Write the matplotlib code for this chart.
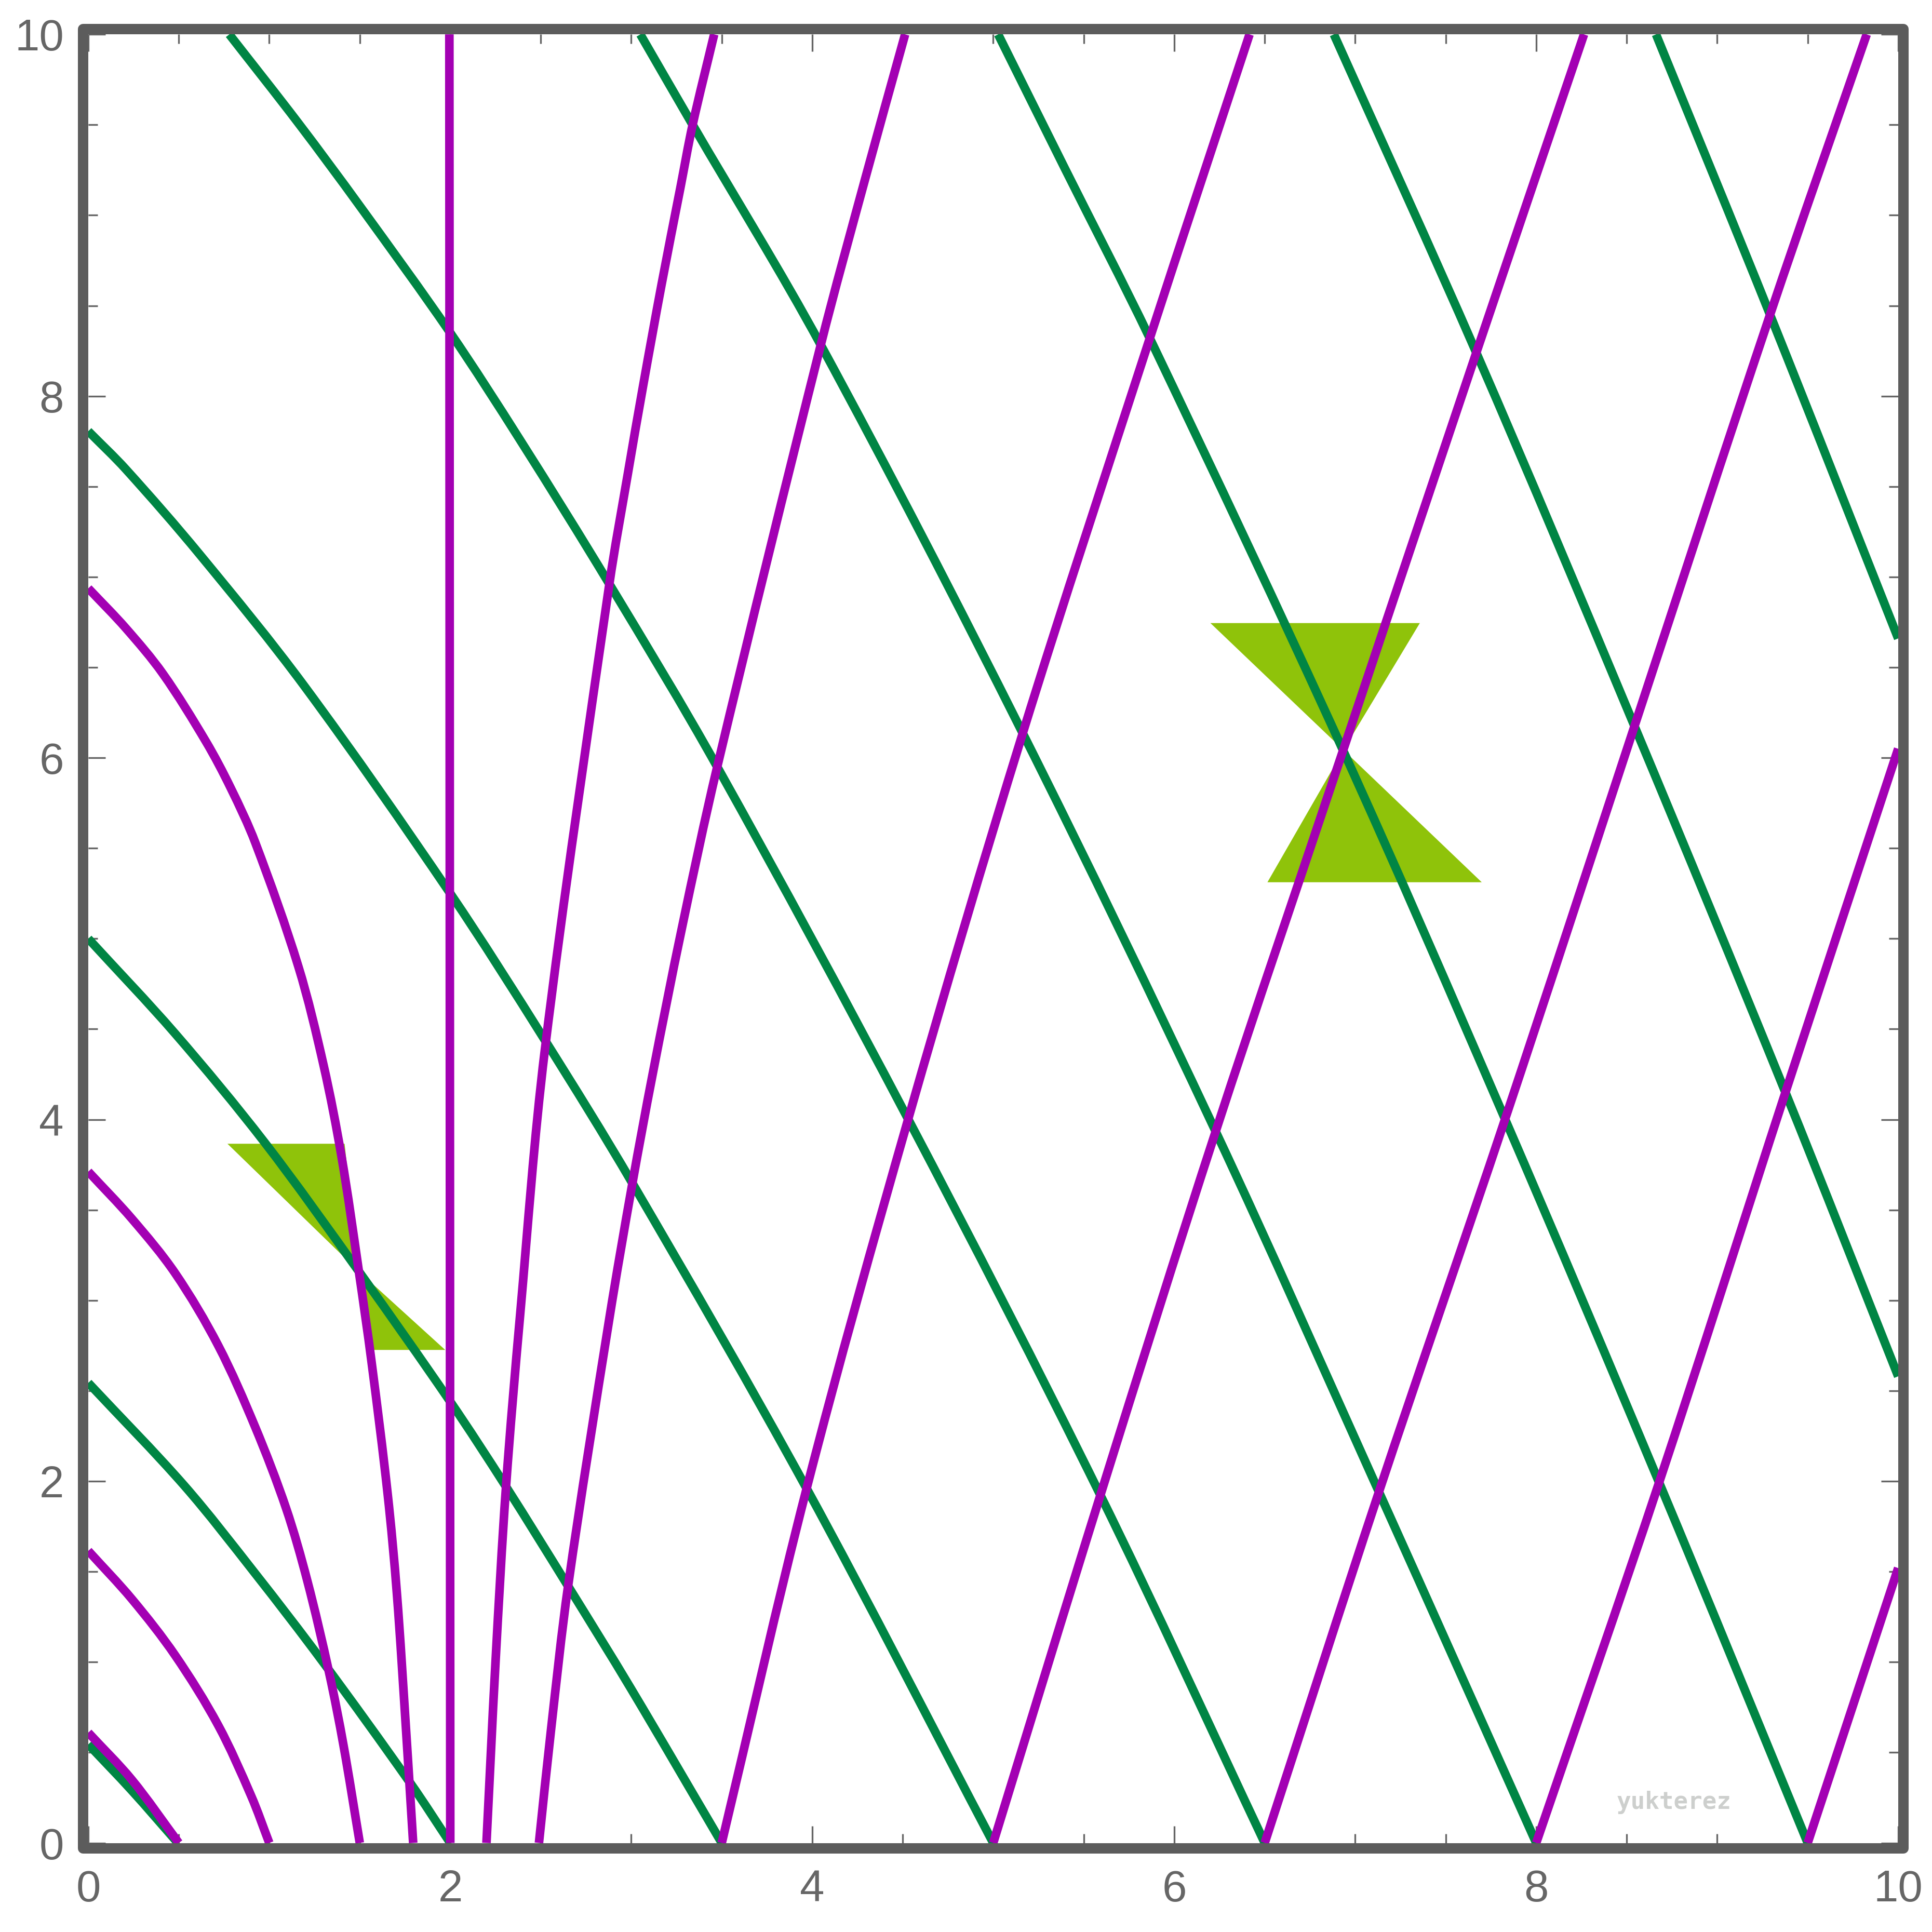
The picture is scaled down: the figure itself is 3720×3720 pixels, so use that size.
import matplotlib
matplotlib.use("Agg")
import numpy as np
import matplotlib.pyplot as plt
from matplotlib.patches import Polygon, Rectangle, PathPatch
from matplotlib.path import Path
from matplotlib.ticker import MultipleLocator

# CURVES as (x, y) points
# green family (running down to the right)
green_1 = [(0.0, 0.545), (0.24, 0.29), (0.495, 0.0)]
green_2 = [(0.0, 2.544), (0.531, 1.975), (0.922, 1.49), (1.297, 1.0), (1.78, 0.33), (2.0, 0.0)]
green_3 = [(0.0, 5.0), (0.48, 4.475), (0.973, 3.875), (1.495, 3.16), (2.0, 2.44), (2.308, 1.97),
           (2.651, 1.42), (2.999, 0.852), (3.5, 0.0)]
green_4 = [(0.0, 7.806), (0.208, 7.595), (0.616, 7.124), (1.195, 6.395), (2.0, 5.25), (2.522, 4.44),
           (3.005, 3.65), (3.969, 1.96), (5.0, 0.0)]
green_5 = [(0.779, 10.0), (1.161, 9.509), (1.501, 9.05), (2.0, 8.35), (2.386, 7.757), (2.879, 6.961),
           (3.475, 5.95), (4.53, 4.002), (5.592, 1.923), (6.5, 0.0)]
green_6 = [(3.05, 10.0), (3.339, 9.5), (4.047, 8.283), (5.163, 6.136), (6.229, 3.934),
           (7.131, 1.941), (8.0, 0.0)]
green_7 = [(5.027, 10.0), (5.395, 9.26), (5.865, 8.32), (6.933, 6.041), (7.828, 4.002),
           (8.679, 1.993), (9.5, 0.0)]
green_8 = [(6.882, 10.0), (7.669, 8.24), (8.543, 6.175), (9.377, 4.15), (10.0, 2.58)]
green_9 = [(8.662, 10.0), (9.292, 8.45), (10.0, 6.66)]

# magenta family (running up to the right outside x=2, up to the left inside)
magenta_1 = [(0.0, 0.61), (0.24, 0.35), (0.50, 0.0)]
magenta_2 = [(0.0, 1.615), (0.242, 1.347), (0.48, 1.037), (0.718, 0.65), (0.9, 0.26), (1.0, 0.0)]
magenta_3 = [(0.0, 3.712), (0.242, 3.45), (0.48, 3.15), (0.718, 2.75), (0.922, 2.3), (1.093, 1.85),
             (1.21, 1.45), (1.331, 0.94), (1.41, 0.54), (1.5, 0.0)]
magenta_4 = [(0.0, 6.937), (0.208, 6.716), (0.412, 6.465), (0.65, 6.09), (0.786, 5.835),
             (0.923, 5.53), (1.161, 4.845), (1.30, 4.3), (1.40, 3.79), (1.495, 3.16),
             (1.565, 2.66), (1.654, 1.93), (1.705, 1.38), (1.756, 0.62), (1.795, 0.0)]
magenta_5 = [(1.995, 10.0), (2.0, 0.0)]
magenta_6 = [(2.2, 0.0), (2.25, 1.0), (2.308, 1.97), (2.386, 2.92), (2.522, 4.38), (2.879, 6.961),
             (2.981, 7.57), (3.066, 8.06), (3.168, 8.62), (3.271, 9.15), (3.339, 9.5), (3.458, 10.0)]
magenta_7 = [(2.49, 0.0), (2.556, 0.62), (2.651, 1.42), (2.879, 2.9), (3.005, 3.64), (3.118, 4.25),
             (3.278, 5.05), (3.475, 5.95), (4.047, 8.283), (4.292, 9.2), (4.513, 10.0)]
magenta_8 = [(3.5, 0.0), (3.969, 1.96), (4.53, 4.002), (5.163, 6.136), (5.865, 8.32), (6.416, 10.0)]
magenta_9 = [(5.0, 0.0), (5.592, 1.923), (6.229, 3.934), (6.933, 6.041), (7.669, 8.24), (8.264, 10.0)]
magenta_10 = [(6.5, 0.0), (7.131, 1.941), (7.828, 4.002), (8.543, 6.175), (9.292, 8.45), (9.826, 10.0)]
magenta_11 = [(8.0, 0.0), (8.679, 1.993), (9.377, 4.15), (10.0, 6.05)]
magenta_12 = [(9.5, 0.0), (10.0, 1.52)]

# light cones (two triangles each)
cone_1_upper = [(0.769, 3.866), (1.416, 3.866), (1.495, 3.16)]
cone_1_lower = [(1.495, 3.16), (1.542, 2.726), (1.972, 2.726)]
cone_2_upper = [(6.20, 6.745), (7.357, 6.745), (6.935, 6.043)]
cone_2_lower = [(6.935, 6.043), (6.515, 5.312), (7.699, 5.312)]

TICKS = [0, 2, 4, 6, 8, 10]
TICK_LABELS = ["0", "2", "4", "6", "8", "10"]

GREEN = "#008544"
MAGENTA = "#a300b3"
CONE = "#8fc30a"
FRAME = "#5c5c5c"
GREY = "#666666"

greens = [green_1, green_2, green_3, green_4, green_5, green_6, green_7, green_8, green_9]
magentas = [magenta_1, magenta_2, magenta_3, magenta_4, magenta_5, magenta_6, magenta_7,
            magenta_8, magenta_9, magenta_10, magenta_11, magenta_12]
cones = [cone_1_upper, cone_1_lower, cone_2_upper, cone_2_lower]


def smooth_path(pts):
    # draw a smooth line through the read points (chordal Catmull-Rom as bezier pieces)
    p = np.array(pts, dtype=float)
    if len(p) < 3:
        return Path(p)
    d = np.hypot(*np.diff(p, axis=0).T)
    t = np.concatenate([[0], np.cumsum(d)])
    m = np.zeros_like(p)
    m[0] = (p[1] - p[0]) / d[0]
    m[-1] = (p[-1] - p[-2]) / d[-1]
    for i in range(1, len(p) - 1):
        m[i] = (p[i + 1] - p[i - 1]) / (t[i + 1] - t[i - 1])
    verts = [p[0]]
    codes = [Path.MOVETO]
    for i in range(len(p) - 1):
        verts += [p[i] + m[i] * d[i] / 3, p[i + 1] - m[i + 1] * d[i] / 3, p[i + 1]]
        codes += [Path.CURVE4] * 3
    return Path(verts, codes)


fig = plt.figure(figsize=(12.4, 12.4), dpi=300)
ax = fig.add_axes([0.0457, 0.0461, 0.9368, 0.9361])

for tri in cones:
    ax.add_patch(Polygon(tri, closed=True, facecolor=CONE, edgecolor="none", zorder=1))

for pts in greens:
    ax.add_patch(PathPatch(smooth_path(pts), facecolor="none", edgecolor=GREEN, lw=4.0,
                           capstyle="butt", zorder=2))

for pts in magentas:
    ax.add_patch(PathPatch(smooth_path(pts), facecolor="none", edgecolor=MAGENTA, lw=4.0,
                           capstyle="butt", zorder=3))

ax.text(8.76, 0.225, "yukterez", color="#cdcfcd", fontsize=11, fontweight="bold",
        family="DejaVu Sans Mono", ha="center", va="center", zorder=4)

ax.set_xlim(0, 10)
ax.set_ylim(0, 10)

# frame: thick rounded rectangle sitting just outside the plot area
for s in ax.spines.values():
    s.set_visible(False)
off = 0.0029
ax.add_patch(Rectangle((-off, -off), 1 + 2 * off, 1 + 2 * off, transform=ax.transAxes,
                       fill=False, edgecolor=FRAME, lw=4.8, joinstyle="round",
                       clip_on=False, zorder=5))

ax.xaxis.set_minor_locator(MultipleLocator(0.5))
ax.yaxis.set_minor_locator(MultipleLocator(0.5))
ax.set_xticks(TICKS, TICK_LABELS)
ax.set_yticks(TICKS, TICK_LABELS)
ax.tick_params(which="both", direction="in", top=True, right=True, color=GREY, width=0.8)
ax.tick_params(which="major", length=7.9)
ax.tick_params(which="minor", length=4.3)
ax.tick_params(axis="x", which="major", pad=12, labelsize=20.5, labelcolor=GREY)
ax.tick_params(axis="y", which="major", pad=11.3, labelsize=20.5, labelcolor=GREY)
for lab in ax.get_xticklabels() + ax.get_yticklabels():
    lab.set_family("Liberation Sans")

fig.savefig("out.png", dpi=300, facecolor="white")
